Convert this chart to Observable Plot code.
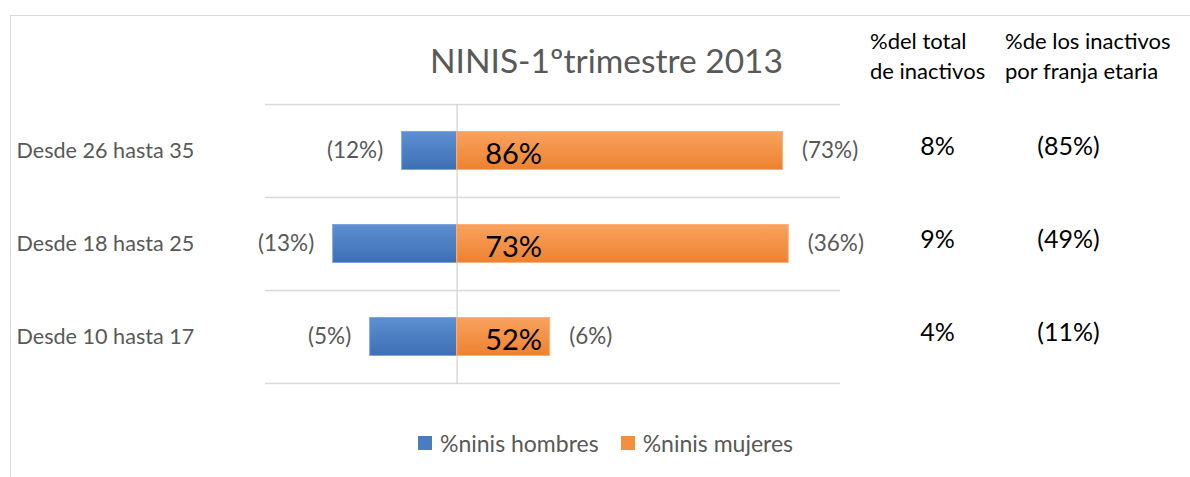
<!DOCTYPE html>
<html><head><meta charset="utf-8">
<script src="https://cdn.jsdelivr.net/npm/d3@7"></script>
<script src="https://cdn.jsdelivr.net/npm/@observablehq/plot@0.6"></script>
<style>
body{margin:0;background:#fff;font-family:Lato,sans-serif;}
#wrap{position:relative;width:1190px;height:477px;overflow:hidden;background:#fff;}
#frame{position:absolute;left:10px;top:15px;width:1200px;height:480px;border:1px solid #d9d9d9;box-sizing:border-box;}
#title{position:absolute;left:430px;top:40px;font-size:33.5px;color:#595959;white-space:nowrap;}
.hdr{position:absolute;top:26px;font-size:22px;line-height:30px;color:#000;white-space:nowrap;}
#legend{position:absolute;left:418px;top:429px;display:flex;align-items:center;font-size:23px;color:#595959;white-space:nowrap;}
.sw{display:inline-block;width:14px;height:14px;margin-right:8px;}
#chart{position:absolute;left:0;top:0;}
</style>
</head><body>
<div id="wrap">
  <div id="frame"></div>
  <div id="chart"></div>
  <div id="title">NINIS-1ºtrimestre 2013</div>
  <div class="hdr" style="left:870px">%del total<br>de inactivos</div>
  <div class="hdr" style="left:1005px">%de los inactivos<br>por franja etaria</div>
  <div id="legend"></div>
</div>
<script>
const categories = ["Desde 26 hasta 35", "Desde 18 hasta 25", "Desde 10 hasta 17"];
const hombres = [28.7, 64.7, 45.4];
const mujeres = [170, 173, 48.5];
const hombresLabels = ["(12%)", "(13%)", "(5%)"];
const mujeresLabels = ["(73%)", "(36%)", "(6%)"];
const mujeresInner = ["86%", "73%", "52%"];
const totalInactivos = ["8%", "9%", "4%"];
const franjaInactivos = ["(85%)", "(49%)", "(11%)"];
const seriesNames = ["%ninis hombres", "%ninis mujeres"];
const seriesColors = ["#4a7dc0", "#f48f3f"];

const rows = categories.map((c, i) => ({
  cat: c, h: -hombres[i], m: mujeres[i],
  hl: hombresLabels[i], ml: mujeresLabels[i], inner: mujeresInner[i],
  tot: totalInactivos[i], fr: franjaInactivos[i]
}));

const defs = () => {
  const d = d3.create("svg:defs");
  const g1 = d.append("linearGradient").attr("id", "gb").attr("x1", 0).attr("y1", 0).attr("x2", 0).attr("y2", 1);
  g1.append("stop").attr("offset", "0").attr("stop-color", "#5d8fd2");
  g1.append("stop").attr("offset", "1").attr("stop-color", "#3d6fb5");
  const g2 = d.append("linearGradient").attr("id", "go").attr("x1", 0).attr("y1", 0).attr("x2", 0).attr("y2", 1);
  g2.append("stop").attr("offset", "0").attr("stop-color", "#f9a25e");
  g2.append("stop").attr("offset", "1").attr("stop-color", "#ec8230");
  return d.node();
};

const half = 93 / 2;
const chart = Plot.plot({
  width: 1190, height: 477,
  marginLeft: 265, marginRight: 350, marginTop: 104, marginBottom: 94,
  x: {domain: [-100, 200], axis: null},
  y: {domain: categories, padding: 0, axis: null},
  style: {fontFamily: "Lato, sans-serif", background: "transparent", overflow: "visible"},
  marks: [
    defs,
    Plot.tickY(categories, {y: d => d, dy: -half, stroke: "#d9d9d9", strokeWidth: 1.5}),
    Plot.tickY(categories.slice(-1), {y: d => d, dy: half, stroke: "#d9d9d9", strokeWidth: 1.5}),
    Plot.ruleX([0], {stroke: "#d9d9d9", strokeWidth: 1.5}),
    Plot.barX(rows, {y: "cat", x1: 0, x2: "h", fill: "url(#gb)", stroke: "#7ea6dc", strokeWidth: 1, insetTop: 27.5, insetBottom: 27.5}),
    Plot.barX(rows, {y: "cat", x1: 0, x2: "m", fill: "url(#go)", stroke: "#fbb27a", strokeWidth: 1, insetTop: 27.5, insetBottom: 27.5}),
    Plot.text(rows, {y: "cat", x: "h", text: "hl", textAnchor: "end", dx: -19, fill: "#595959", fontSize: 22.5}),
    Plot.text(rows, {y: "cat", x: "m", text: "ml", textAnchor: "start", dx: 19, fill: "#595959", fontSize: 22.5}),
    Plot.text(rows, {y: "cat", x: 0, text: "inner", textAnchor: "start", dx: 28, dy: 4, fill: "#000", fontSize: 29}),
    Plot.text(rows, {y: "cat", text: "cat", frameAnchor: "left", textAnchor: "start", dx: -249, fill: "#595959", fontSize: 21.6}),
    Plot.text(rows, {y: "cat", text: "tot", frameAnchor: "right", textAnchor: "middle", dx: 97, dy: -4, fill: "#000", fontSize: 25}),
    Plot.text(rows, {y: "cat", text: "fr", frameAnchor: "right", textAnchor: "middle", dx: 228, dy: -4, fill: "#000", fontSize: 25})
  ]
});
document.getElementById("chart").appendChild(chart);

const legend = document.getElementById("legend");
seriesNames.forEach((n, i) => {
  const item = document.createElement("span");
  item.style.display = "inline-flex";
  item.style.alignItems = "center";
  item.style.marginRight = i === 0 ? "22px" : "0";
  item.innerHTML = `<span class="sw" style="background:${seriesColors[i]}"></span>${n}`;
  legend.appendChild(item);
});
</script>
</body></html>
